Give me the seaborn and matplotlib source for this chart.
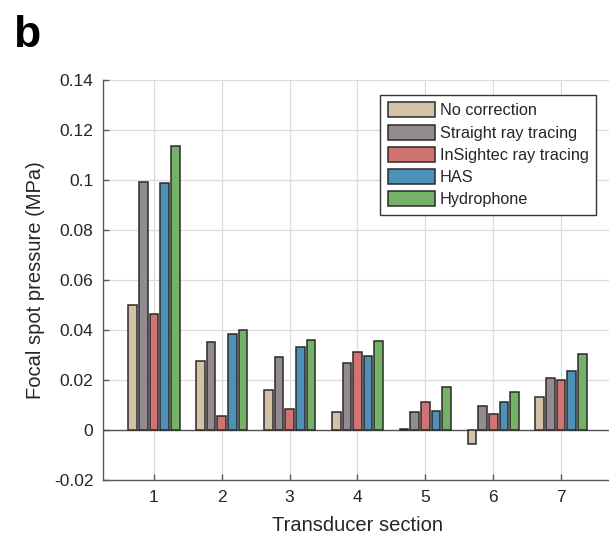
import matplotlib
matplotlib.use("Agg")
import matplotlib.pyplot as plt
import seaborn as sns
import pandas as pd

sections = ["1", "2", "3", "4", "5", "6", "7"]
no_correction = [0.0500, 0.0276, 0.0161, 0.0073, 0.0005, -0.0057, 0.0132]
straight_ray = [0.0993, 0.0351, 0.0293, 0.0269, 0.0071, 0.0095, 0.0209]
insightec_ray = [0.0463, 0.0057, 0.0083, 0.0311, 0.0112, 0.0065, 0.0199]
has = [0.0988, 0.0385, 0.0333, 0.0295, 0.0077, 0.0113, 0.0235]
hydrophone = [0.1135, 0.0401, 0.0359, 0.0356, 0.0171, 0.0152, 0.0303]
series_names = ["No correction", "Straight ray tracing", "InSightec ray tracing", "HAS", "Hydrophone"]
colors = ["#DCC39F", "#958A92", "#E06464", "#3C96C8", "#6CBE5A"]
yticks = [-0.02, 0, 0.02, 0.04, 0.06, 0.08, 0.1, 0.12, 0.14]
ytick_labels = ["-0.02", "0", "0.02", "0.04", "0.06", "0.08", "0.1", "0.12", "0.14"]

rows = []
for name, vals in zip(series_names, [no_correction, straight_ray, insightec_ray, has, hydrophone]):
    for s, v in zip(sections, vals):
        rows.append({"section": s, "method": name, "value": v})
df = pd.DataFrame(rows)

sns.set_theme(style="white")
plt.rcParams["font.family"] = ["Liberation Sans", "DejaVu Sans"]

fig = plt.figure(figsize=(6.09, 5.37), dpi=100)
ax = fig.add_axes([103 / 609, 1 - 480 / 537, (612 - 103) / 609, 400 / 537])

sns.barplot(data=df, x="section", y="value", hue="method", order=sections,
            hue_order=series_names, palette=colors, width=0.785, gap=0.19,
            edgecolor="#2a2a2a", linewidth=1.1, ax=ax, zorder=3)

ax.set_xlim(-0.75, 6.75)
ax.set_ylim(-0.02, 0.14)
ax.set_yticks(yticks)
ax.set_yticklabels(ytick_labels)
ax.axhline(0, color="#555555", linewidth=1.0, zorder=2)
ax.grid(True, color="#dcdcdc", linewidth=0.9, zorder=0)
ax.set_axisbelow(True)

for side in ["top", "right"]:
    ax.spines[side].set_visible(False)
for side in ["left", "bottom"]:
    ax.spines[side].set_color("#5a5a5a")
    ax.spines[side].set_linewidth(1.0)

ax.tick_params(axis="both", direction="in", length=4, width=1.0, color="#5a5a5a",
               labelsize=12.5, labelcolor="#262626", left=True, bottom=True, pad=7)
ax.set_xlabel("Transducer section", fontsize=14.5, color="#262626", labelpad=8)
ax.set_ylabel("Focal spot pressure (MPa)", fontsize=14.5, color="#262626", labelpad=6)

leg = ax.legend(loc="upper right", bbox_to_anchor=((596 - 103) / 509, 1 - 15 / 400),
                fontsize=11.7, frameon=True, fancybox=False, edgecolor="#333333",
                handlelength=2.9, handleheight=1.05, handletextpad=0.3,
                labelspacing=0.38, borderpad=0.45, borderaxespad=0)
leg.get_frame().set_linewidth(1.0)
leg.get_frame().set_alpha(1)
leg.set_title(None)

fig.text(13 / 609, 1 - 47 / 537, "b", fontsize=32, fontweight="bold", color="black",
         va="baseline", ha="left")

fig.savefig("out.png", dpi=100)
